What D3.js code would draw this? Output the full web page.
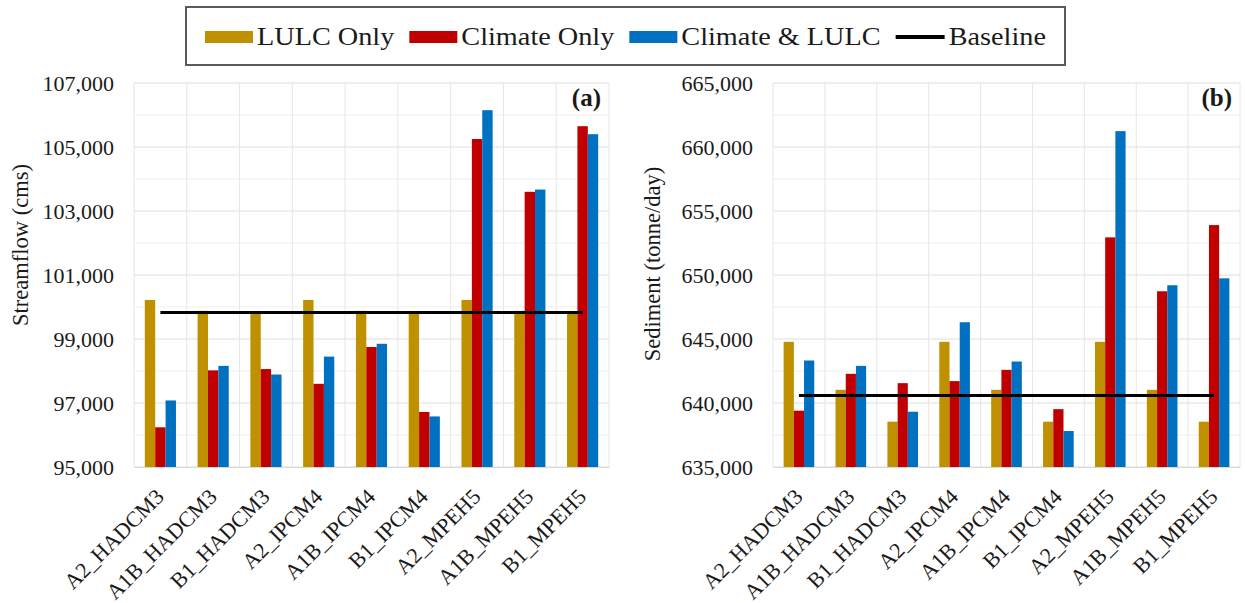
<!DOCTYPE html>
<html><head><meta charset="utf-8">
<script src="https://cdn.jsdelivr.net/npm/d3@7"></script>
<style>
body{margin:0;background:#fff}
svg{display:block}
text{font-family:"Liberation Serif","Times New Roman",Times,serif;fill:#1a1a1a}
</style>
</head><body>
<svg id="c" width="1245" height="603"></svg>
<script>
// ---- data ----
const categories = ["A2_HADCM3","A1B_HADCM3","B1_HADCM3","A2_IPCM4","A1B_IPCM4","B1_IPCM4","A2_MPEH5","A1B_MPEH5","B1_MPEH5"];
const seriesNames = ["LULC Only","Climate Only","Climate & LULC"];
const baselineName = "Baseline";

const streamLULC    = [100220, 99880, 99800, 100220, 99880, 99800, 100220, 99880, 99800];
const streamClimate = [96240, 98020, 98060, 97600, 98750, 96720, 105250, 103600, 105650];
const streamBoth    = [97080, 98160, 97890, 98450, 98850, 96580, 106150, 103670, 105400];
const streamBaseline = 99830;
const streamTicks = [95000, 97000, 99000, 101000, 103000, 105000, 107000];

const sedLULC    = [644780, 641030, 638540, 644780, 641030, 638540, 644780, 641030, 638540];
const sedClimate = [639400, 642280, 641550, 641710, 642590, 639520, 652940, 648730, 653900];
const sedBoth    = [643320, 642900, 639320, 646310, 643240, 637810, 661240, 649200, 649740];
const sedBaseline = 640590;
const sedTicks = [635000, 640000, 645000, 650000, 655000, 660000, 665000];

const colors = ["#BF9000", "#C00000", "#0070C0"];

const svg = d3.select("#c");
const FONT = '"Liberation Serif","Times New Roman",Times,serif';

function stretch(sel, f) {
  sel.each(function(){
    const w = this.getComputedTextLength();
    d3.select(this).attr("textLength", w * f).attr("lengthAdjust", "spacingAndGlyphs");
  });
}

function panel(cfg) {
  const g = svg.append("g");
  const x = d3.scaleBand().domain(categories).range([cfg.x0, cfg.x1]).padding(0);
  const ticks = cfg.ticks;
  const y = d3.scaleLinear().domain([ticks[0], ticks[ticks.length-1]]).range([cfg.bottom, cfg.top]);
  const bw = x.bandwidth();

  // minor gridlines
  const minor = d3.range(ticks[0], ticks[ticks.length-1], (ticks[1]-ticks[0])/2).filter(v => !ticks.includes(v));
  g.append("g").selectAll("line").data(minor).join("line")
    .attr("x1", cfg.x0).attr("x2", cfg.x1)
    .attr("y1", d => y(d)).attr("y2", d => y(d))
    .attr("stroke", "#efefef").attr("stroke-width", 1);
  // major gridlines
  g.append("g").selectAll("line").data(ticks).join("line")
    .attr("x1", cfg.x0).attr("x2", cfg.x1)
    .attr("y1", d => y(d)).attr("y2", d => y(d))
    .attr("stroke", "#dedede").attr("stroke-width", 1);
  // vertical gridlines
  const vx = categories.map(c => x(c)).concat([cfg.x1]);
  g.append("g").selectAll("line").data(vx).join("line")
    .attr("x1", d => d).attr("x2", d => d)
    .attr("y1", cfg.top).attr("y2", cfg.bottom)
    .attr("stroke", "#e6e6e6").attr("stroke-width", 1);

  // y axis
  const ya = g.append("g").attr("transform", `translate(${cfg.x0},0)`)
    .call(d3.axisLeft(y).tickValues(ticks).tickFormat(d3.format(",")).tickSize(0).tickPadding(20));
  ya.select(".domain").remove();
  ya.selectAll("text").attr("font-size", 22).style("font-family", FONT).attr("fill", "#1a1a1a");

  // bars
  const groupW = bw * 0.59;
  const barW = groupW / 3;
  cfg.series.forEach((vals, si) => {
    g.append("g").selectAll("rect").data(vals).join("rect")
      .attr("x", (d, i) => x(categories[i]) + (bw - groupW) / 2 + si * barW)
      .attr("width", barW)
      .attr("y", d => y(d))
      .attr("height", d => cfg.bottom - y(d))
      .attr("fill", colors[si]);
  });

  // baseline
  g.append("line")
    .attr("x1", x(categories[0]) + bw/2).attr("x2", x(categories[categories.length-1]) + bw/2)
    .attr("y1", y(cfg.baseline)).attr("y2", y(cfg.baseline))
    .attr("stroke", "#000").attr("stroke-width", 3);

  // x axis labels
  const xa = g.append("g").attr("transform", `translate(0,${cfg.bottom})`)
    .call(d3.axisBottom(x).tickSize(0));
  xa.select(".domain").attr("stroke", "#d9d9d9");
  xa.selectAll("text")
    .attr("x", 0).attr("y", 0).attr("dy", 0)
    .attr("text-anchor", "end")
    .attr("transform", "translate(5,31) rotate(-45)")
    .attr("font-size", 22).style("font-family", FONT).attr("fill", "#1a1a1a");

  // y title
  g.append("text")
    .attr("transform", `translate(${cfg.titleX},${cfg.titleY}) rotate(-90)`)
    .attr("text-anchor", "middle").attr("dy", "0.35em")
    .attr("font-size", 22.5).attr("fill", "#1a1a1a")
    .text(cfg.title);

  // panel tag
  g.append("text")
    .attr("x", cfg.x1 - 8).attr("y", cfg.top + 23)
    .attr("text-anchor", "end")
    .attr("font-size", 25).attr("font-weight", "bold").attr("fill", "#111")
    .text(cfg.tag);
}

panel({x0: 134, x1: 609, top: 83, bottom: 467, ticks: streamTicks,
  series: [streamLULC, streamClimate, streamBoth], baseline: streamBaseline,
  title: "Streamflow (cms)", titleX: 20, titleY: 245, tag: "(a)"});
panel({x0: 773, x1: 1240, top: 83, bottom: 467, ticks: sedTicks,
  series: [sedLULC, sedClimate, sedBoth], baseline: sedBaseline,
  title: "Sediment (tonne/day)", titleX: 652, titleY: 264, tag: "(b)"});

// legend
const lg = svg.append("g");
lg.append("rect").attr("x", 186).attr("y", 7).attr("width", 879).attr("height", 58)
  .attr("fill", "#fff").attr("stroke", "#5a5a5a").attr("stroke-width", 2);
let cx = 205;
const items = seriesNames.map((n, i) => ({name: n, color: colors[i], type: "rect"}))
  .concat([{name: baselineName, color: "#000", type: "line"}]);
items.forEach((it, i) => {
  const sw = it.type === "rect" ? 48 : 49;
  if (it.type === "rect") {
    lg.append("rect").attr("x", cx).attr("y", 31).attr("width", sw).attr("height", 12).attr("fill", it.color);
  } else {
    lg.append("line").attr("x1", cx).attr("x2", cx + sw).attr("y1", 37).attr("y2", 37)
      .attr("stroke", it.color).attr("stroke-width", 4);
  }
  const t = lg.append("text").attr("x", cx + sw + 4).attr("y", 45)
    .attr("font-size", 25).attr("fill", "#1a1a1a").text(it.name);
  stretch(t, 1.13);
  cx = cx + sw + 4 + (+t.attr("textLength")) + 15;
});
</script>
</body></html>
